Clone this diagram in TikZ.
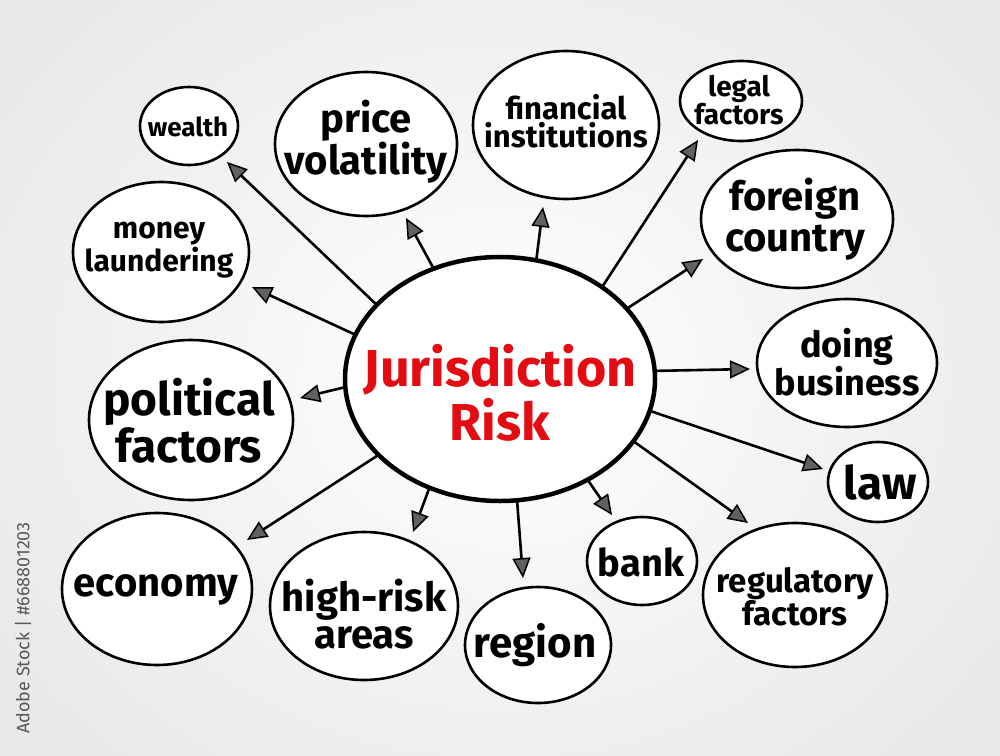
\documentclass[tikz,border=0pt]{standalone}
\usepackage{fontspec}
\setmainfont{Fira Sans}
\usetikzlibrary{arrows.meta,shapes.geometric}
\definecolor{jred}{RGB}{226,12,18}
\begin{document}
\begin{tikzpicture}[x=1pt,y=-1pt,
  bubble/.style={ellipse, draw=black, line width=2.6pt, fill=white, inner sep=0pt, outer sep=0pt},
  lbl/.style={align=center, inner sep=0pt},
  arr/.style={line width=2.6pt, -{Triangle[length=20pt,width=18pt,fill=black!62,line width=1.5pt]}},
  fs/.style 2 args={font=\bfseries\fontsize{#1}{#2}\selectfont}
]
\useasboundingbox (0,0) rectangle (1000,755);
\shade[inner color=white, outer color=black!9] (-120,-150) rectangle (1120,905);

% watermark
\node[rotate=90, text=black!65, font=\fontsize{18}{18}\selectfont] (wm) at (23,628) {Adobe Stock | \#668801203};

% central node
\node[bubble, minimum width=310, minimum height=244, line width=4.5pt] (c) at (500,379) {};
\node[lbl, text=jred, fs={52}{54}] (ct) at (500,393) {Jurisdiction\\Risk};

% satellites
\node[bubble, minimum width=98,  minimum height=78] (wealth) at (189,126) {};
\node[lbl, fs={26}{26}] (wealtht) at (188,127) {wealth};
\node[bubble, minimum width=182, minimum height=144] (price) at (366,144) {};
\node[lbl, fs={40}{35}] (pricet) at (366,142) {price\\volatility};
\node[bubble, minimum width=176, minimum height=140] (money) at (161,252) {};
\node[lbl, fs={30}{33}] (moneyt) at (159,250) {money\\laundering};
\node[bubble, minimum width=186, minimum height=148] (fin) at (566,125) {};
\node[lbl, fs={31}{28}] (fint) at (566,121) {financial\\institutions};
\node[bubble, minimum width=122, minimum height=80] (legal) at (741,101) {};
\node[lbl, fs={28}{28}] (legalt) at (739,100) {legal\\factors};
\node[bubble, minimum width=192, minimum height=138] (foreign) at (797,219) {};
\node[lbl, fs={40}{41}] (foreignt) at (795,219) {foreign\\country};
\node[bubble, minimum width=180, minimum height=128] (doing) at (847,363) {};
\node[lbl, fs={36}{35}] (doingt) at (847,362) {doing\\business};
\node[bubble, minimum width=100, minimum height=80] (law) at (878,482) {};
\node[lbl, fs={46}{46}] (lawt) at (880,482) {law};
\node[bubble, minimum width=184, minimum height=144] (reg) at (795,595) {};
\node[lbl, fs={33}{33}] (regt) at (795,597) {regulatory\\factors};
\node[bubble, minimum width=110, minimum height=88] (bank) at (642,561) {};
\node[lbl, fs={38}{38}] (bankt) at (641,562) {bank};
\node[bubble, minimum width=146, minimum height=116] (region) at (538,645) {};
\node[lbl, fs={42}{42}] (regiont) at (535,645) {region};
\node[bubble, minimum width=188, minimum height=148] (high) at (364,606) {};
\node[lbl, fs={40}{37}] (hight) at (364,614) {high-risk\\areas};
\node[bubble, minimum width=190, minimum height=152] (econ) at (157,589) {};
\node[lbl, fs={40}{40}] (econt) at (156,590) {economy};
\node[bubble, minimum width=204, minimum height=160] (pol) at (191,420) {};
\node[lbl, fs={46}{47}] (polt) at (189,421) {political\\factors};

% arrow tips
\coordinate (tWealth) at (227,162);
\coordinate (tPrice) at (406,218);
\coordinate (tMoney) at (252,287);
\coordinate (tFin) at (543,207);
\coordinate (tLegal) at (698,140);
\coordinate (tForeign) at (703,259);
\coordinate (tDoing) at (750,369);
\coordinate (tLaw) at (823,469);
\coordinate (tReg) at (748,523);
\coordinate (tBank) at (612,515);
\coordinate (tRegion) at (523,578);
\coordinate (tHigh) at (413,532);
\coordinate (tEcon) at (247,540);
\coordinate (tPol) at (300,398);

\draw[arr] (c.149.4) -- (tWealth);
\draw[arr] (c.121) -- (tPrice);
\draw[arr] (c.163.8) -- (tMoney);
\draw[arr] (c.73.6) -- (tFin);
\draw[arr] (c.42.5) -- (tLegal);
\draw[arr] (c.29.7) -- (tForeign);
\draw[arr] (c.3.7) -- (tDoing);
\draw[arr] (c.-12) -- (tLaw);
\draw[arr] (c.-25.4) -- (tReg);
\draw[arr] (c.-49.2) -- (tBank);
\draw[arr] (c.-82.2) -- (tRegion);
\draw[arr] (c.-123.3) -- (tHigh);
\draw[arr] (c.-148.7) -- (tEcon);
\draw[arr] (c.-177.1) -- (tPol);
\end{tikzpicture}
\end{document}
